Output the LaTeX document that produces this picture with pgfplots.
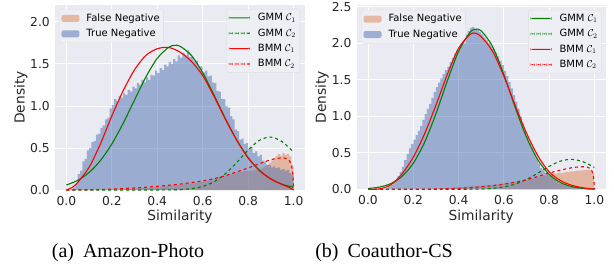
\documentclass[border=0pt]{standalone}
\usepackage{pgfplots}
\pgfplotsset{compat=1.18}
\usepackage{fontspec}
\setmainfont{DejaVu Sans}
\newfontfamily\capfont{Liberation Serif}
\definecolor{bgc}{HTML}{EAEAF2}
\definecolor{legc}{HTML}{EEEEF5}
\definecolor{tnc}{HTML}{4C72B0}
\definecolor{fnc}{HTML}{DD8452}
\definecolor{gmmc}{HTML}{008000}
\definecolor{bmmc}{HTML}{FF0000}
\definecolor{txt}{HTML}{262626}
\pgfplotsset{
  base/.style={scale only axis, anchor=south west, xmin=-0.05, xmax=1.05, ymin=0,
    axis background/.style={fill=bgc}, axis line style={draw=none}, major tick length=0pt,
    grid=major, grid style={white, line width=0.8bp},
    xtick={0,0.2,0.4,0.6,0.8,1.0},
    /pgf/number format/fixed, /pgf/number format/fixed zerofill,
    /pgf/number format/precision=1, /pgf/number format/assume math mode=true,
    tick label style={font=\fontsize{12.3bp}{14bp}\selectfont, text=txt},
    xticklabel style={yshift=-3bp}, yticklabel style={xshift=-1.7bp},
    label style={font=\fontsize{13.8bp}{16bp}\selectfont, text=txt},
    xlabel={Similarity}, ylabel={Density},
    legend cell align=left,
    legend style={draw=black!12, fill=legc,
      rounded corners=2bp, font=\fontsize{10bp}{12bp}\selectfont,
      inner xsep=2bp, inner ysep=1.2bp, row sep=0bp,
      nodes={inner ysep=2.5bp, inner xsep=2bp, text height=8bp, text depth=2.4bp},
      /tikz/every odd column/.append style={column sep=5bp}},
  },
  over/.style={scale only axis, anchor=south west, xmin=-0.05, xmax=1.05, ymin=0,
    hide axis, grid=none, legend cell align=left,
    legend style={draw=black!12, fill=legc,
      rounded corners=2bp, font=\fontsize{10bp}{12bp}\selectfont,
      inner xsep=2bp, inner ysep=0.6bp, row sep=0bp,
      nodes={inner ysep=2.5bp, inner xsep=2bp, text height=8bp, text depth=2.4bp},
      /tikz/every odd column/.append style={column sep=6bp}},
  },
  hist/.style={ybar interval, draw=none, fill=#1, fill opacity=0.5,
    legend image code/.code={\fill[#1, fill opacity=0.5, draw=none] (0bp,-3.5bp) rectangle (18bp,3.5bp);}},
  crv/.style={line width=1.1bp, smooth, tension=0.5, no marks, color=#1,
    legend image code/.code={\path[fill=#1, draw=none] (0bp,-0.55bp) rectangle (21bp,0.55bp);}},
  crvd/.style={line width=1.1bp, smooth, tension=0.3, no marks, color=#1, dashed,
    legend image code/.code={\path[fill=#1, draw=none] (0bp,-0.55bp) rectangle (4bp,0.55bp) (6bp,-0.55bp) rectangle (10bp,0.55bp)
       (12bp,-0.55bp) rectangle (16bp,0.55bp) (18bp,-0.55bp) rectangle (21bp,0.55bp);}},
}
\begin{document}
\begin{tikzpicture}
\path[use as bounding box] (0,0) rectangle (614bp,-273bp);
% ---------------- Left panel ----------------
\begin{axis}[base, at={(55bp,-190bp)}, width=250bp, height=185bp, ymax=2.2,
  ytick={0,0.5,1.0,1.5,2.0},
  xlabel style={at={(axis description cs:0.5,-0.144)}, anchor=center},
  ylabel style={at={(axis description cs:-0.137,0.5)}, anchor=center},
  legend style={at={(0,1)}, anchor=north west, xshift=4.3bp, yshift=-4.3bp}]
\addplot[hist=fnc] table[row sep=\\]{x y\\
0.00 0\\0.01 0\\0.02 0\\0.03 0\\0.04 0\\0.05 0\\0.06 0\\0.07 0\\0.08 0\\0.09 0\\
0.10 0\\0.11 0\\0.12 0\\0.13 0\\0.14 0\\0.15 0.001\\0.16 0.001\\0.17 0.002\\0.18 0.002\\0.19 0.003\\
0.20 0.003\\0.21 0.004\\0.22 0.005\\0.23 0.006\\0.24 0.007\\0.25 0.008\\0.26 0.010\\0.27 0.011\\0.28 0.013\\0.29 0.015\\
0.30 0.017\\0.31 0.019\\0.32 0.021\\0.33 0.023\\0.34 0.025\\0.35 0.027\\0.36 0.029\\0.37 0.031\\0.38 0.033\\0.39 0.035\\
0.40 0.037\\0.41 0.040\\0.42 0.042\\0.43 0.045\\0.44 0.047\\0.45 0.050\\0.46 0.052\\0.47 0.055\\0.48 0.058\\0.49 0.060\\
0.50 0.063\\0.51 0.066\\0.52 0.069\\0.53 0.072\\0.54 0.076\\0.55 0.080\\0.56 0.084\\0.57 0.088\\0.58 0.092\\0.59 0.096\\
0.60 0.100\\0.61 0.106\\0.62 0.112\\0.63 0.118\\0.64 0.124\\0.65 0.130\\0.66 0.138\\0.67 0.146\\0.68 0.154\\0.69 0.162\\
0.70 0.170\\0.71 0.178\\0.72 0.186\\0.73 0.194\\0.74 0.202\\0.75 0.210\\0.76 0.214\\0.77 0.218\\0.78 0.222\\0.79 0.226\\
0.80 0.230\\0.81 0.228\\0.82 0.232\\0.83 0.236\\0.84 0.240\\0.85 0.248\\0.86 0.26\\0.87 0.28\\0.88 0.30\\0.89 0.32\\
0.90 0.35\\0.91 0.38\\0.92 0.40\\0.93 0.43\\0.94 0.41\\0.95 0.44\\0.96 0.42\\0.97 0.43\\0.98 0.40\\0.99 0.30\\1.00 0\\};
\addlegendentry{False Negative}
\addplot[hist=tnc] table[row sep=\\]{x y\\
0.00 0\\0.01 0\\0.02 0.01\\0.03 0.03\\0.04 0.08\\0.05 0.19\\0.06 0.23\\0.07 0.34\\0.08 0.37\\0.09 0.47\\
0.10 0.50\\0.11 0.57\\0.12 0.58\\0.13 0.66\\0.14 0.67\\0.15 0.74\\0.16 0.77\\0.17 0.84\\0.18 0.86\\0.19 0.97\\
0.20 1.01\\0.21 1.08\\0.22 1.06\\0.23 1.12\\0.24 1.10\\0.25 1.15\\0.26 1.13\\0.27 1.19\\0.28 1.17\\0.29 1.23\\
0.30 1.21\\0.31 1.27\\0.32 1.25\\0.33 1.31\\0.34 1.28\\0.35 1.34\\0.36 1.31\\0.37 1.37\\0.38 1.36\\0.39 1.42\\
0.40 1.39\\0.41 1.45\\0.42 1.43\\0.43 1.49\\0.44 1.47\\0.45 1.52\\0.46 1.50\\0.47 1.56\\0.48 1.53\\0.49 1.60\\
0.50 1.57\\0.51 1.63\\0.52 1.60\\0.53 1.66\\0.54 1.58\\0.55 1.59\\0.56 1.53\\0.57 1.54\\0.58 1.47\\0.59 1.47\\
0.60 1.40\\0.61 1.42\\0.62 1.35\\0.63 1.36\\0.64 1.28\\0.65 1.27\\0.66 1.18\\0.67 1.17\\0.68 1.08\\0.69 1.08\\
0.70 1.00\\0.71 0.98\\0.72 0.88\\0.73 0.84\\0.74 0.72\\0.75 0.70\\0.76 0.60\\0.77 0.61\\0.78 0.55\\0.79 0.56\\
0.80 0.49\\0.81 0.51\\0.82 0.44\\0.83 0.46\\0.84 0.40\\0.85 0.42\\0.86 0.35\\0.87 0.34\\0.88 0.30\\0.89 0.30\\
0.90 0.27\\0.91 0.28\\0.92 0.26\\0.93 0.27\\0.94 0.24\\0.95 0.25\\0.96 0.23\\0.97 0.24\\0.98 0.20\\0.99 0.18\\1.00 0\\};
\addlegendentry{True Negative}
\end{axis}
\begin{axis}[over, at={(55bp,-190bp)}, width=250bp, height=185bp, ymax=2.2,
  legend style={at={(1,1)}, anchor=north east, xshift=-5bp, yshift=-4.3bp}]
\addplot[crv=gmmc] table[row sep=\\]{x y\\
0 0.059\\0.05 0.115\\0.1 0.208\\0.15 0.351\\0.2 0.547\\0.25 0.794\\0.3 1.071\\0.35 1.344\\0.4 1.566\\0.45 1.697\\0.475 1.719\\
0.5 1.710\\0.55 1.601\\0.6 1.394\\0.65 1.128\\0.7 0.848\\0.75 0.593\\0.8 0.385\\0.85 0.233\\0.9 0.131\\0.95 0.068\\1.0 0.033\\};
\addlegendentry{GMM $\mathcal{C}_1$}
\addplot[crvd=gmmc, tension=0.5] table[row sep=\\]{x y\\
0 0\\0.1 0\\0.2 0\\0.3 0\\0.35 0.0001\\0.4 0.0003\\0.45 0.0014\\0.5 0.005\\0.55 0.016\\0.6 0.042\\0.65 0.098\\0.7 0.194\\
0.75 0.328\\0.8 0.476\\0.85 0.592\\0.9 0.629\\0.95 0.574\\1.0 0.448\\};
\addlegendentry{GMM $\mathcal{C}_2$}
\addplot[crv=bmmc] table[row sep=\\]{x y\\
0 0\\0.025 0.03\\0.05 0.09\\0.1 0.27\\0.15 0.55\\0.2 0.88\\0.25 1.18\\0.3 1.43\\0.35 1.60\\0.4 1.68\\0.45 1.695\\
0.5 1.64\\0.55 1.53\\0.6 1.36\\0.65 1.11\\0.7 0.84\\0.75 0.59\\0.8 0.38\\0.85 0.23\\0.9 0.13\\0.95 0.065\\0.98 0.03\\1.0 0\\};
\addlegendentry{BMM $\mathcal{C}_1$}
\addplot[crvd=bmmc] table[row sep=\\]{x y\\
0 0\\0.05 0.001\\0.1 0.003\\0.15 0.006\\0.2 0.011\\0.25 0.017\\0.3 0.024\\0.35 0.033\\0.4 0.044\\0.45 0.056\\
0.5 0.070\\0.55 0.088\\0.6 0.108\\0.65 0.135\\0.7 0.170\\0.75 0.215\\0.8 0.262\\0.85 0.313\\0.875 0.338\\
0.9 0.360\\0.925 0.376\\0.95 0.382\\0.96 0.380\\0.97 0.372\\0.98 0.352\\0.985 0.33\\0.99 0.29\\0.995 0.22\\0.998 0.13\\1.0 0\\};
\addlegendentry{BMM $\mathcal{C}_2$}
\end{axis}
% ---------------- Right panel ----------------
\begin{axis}[base, at={(356.7bp,-189.3bp)}, width=249bp, height=184.3bp, ymax=2.523,
  ytick={0,0.5,1.0,1.5,2.0,2.5},
  xlabel style={at={(axis description cs:0.5,-0.148)}, anchor=center},
  ylabel style={at={(axis description cs:-0.139,0.5)}, anchor=center},
  legend style={at={(0,1)}, anchor=north west, xshift=4.6bp, yshift=-5bp}]
\addplot[hist=fnc] table[row sep=\\]{x y\\
0.00 0\\0.01 0\\0.02 0\\0.03 0\\0.04 0\\0.05 0\\0.06 0\\0.07 0\\0.08 0\\0.09 0\\
0.10 0\\0.11 0\\0.12 0\\0.13 0\\0.14 0\\0.15 0.001\\0.16 0.001\\0.17 0.001\\0.18 0.002\\0.19 0.002\\
0.20 0.002\\0.21 0.002\\0.22 0.003\\0.23 0.003\\0.24 0.004\\0.25 0.005\\0.26 0.006\\0.27 0.007\\0.28 0.008\\0.29 0.009\\
0.30 0.010\\0.31 0.012\\0.32 0.014\\0.33 0.016\\0.34 0.018\\0.35 0.020\\0.36 0.022\\0.37 0.024\\0.38 0.026\\0.39 0.028\\
0.40 0.030\\0.41 0.032\\0.42 0.034\\0.43 0.036\\0.44 0.038\\0.45 0.040\\0.46 0.042\\0.47 0.044\\0.48 0.046\\0.49 0.048\\
0.50 0.050\\0.51 0.052\\0.52 0.054\\0.53 0.056\\0.54 0.058\\0.55 0.060\\0.56 0.064\\0.57 0.068\\0.58 0.072\\0.59 0.076\\
0.60 0.080\\0.61 0.084\\0.62 0.088\\0.63 0.092\\0.64 0.096\\0.65 0.100\\0.66 0.106\\0.67 0.112\\0.68 0.118\\0.69 0.124\\
0.70 0.130\\0.71 0.138\\0.72 0.146\\0.73 0.154\\0.74 0.162\\0.75 0.170\\0.76 0.176\\0.77 0.182\\0.78 0.190\\0.79 0.198\\
0.80 0.205\\0.81 0.210\\0.82 0.214\\0.83 0.218\\0.84 0.222\\0.85 0.226\\0.86 0.230\\0.87 0.234\\0.88 0.238\\0.89 0.242\\
0.90 0.246\\0.91 0.250\\0.92 0.254\\0.93 0.256\\0.94 0.258\\0.95 0.262\\0.96 0.264\\0.97 0.268\\0.98 0.262\\0.99 0.225\\1.00 0\\};
\addlegendentry{False Negative}
\addplot[hist=tnc] table[row sep=\\]{x y\\
0.00 0\\0.01 0\\0.02 0\\0.03 0\\0.04 0\\0.05 0\\0.06 0\\0.07 0.005\\0.08 0.02\\0.09 0.04\\
0.10 0.06\\0.11 0.09\\0.12 0.13\\0.13 0.18\\0.14 0.24\\0.15 0.31\\0.16 0.40\\0.17 0.48\\0.18 0.56\\0.19 0.62\\
0.20 0.68\\0.21 0.74\\0.22 0.80\\0.23 0.87\\0.24 0.95\\0.25 1.03\\0.26 1.10\\0.27 1.17\\0.28 1.25\\0.29 1.33\\
0.30 1.40\\0.31 1.46\\0.32 1.52\\0.33 1.58\\0.34 1.63\\0.35 1.68\\0.36 1.74\\0.37 1.80\\0.38 1.86\\0.39 1.91\\
0.40 1.96\\0.41 2.02\\0.42 2.07\\0.43 2.12\\0.44 2.17\\0.45 2.21\\0.46 2.22\\0.47 2.20\\0.48 2.18\\0.49 2.15\\
0.50 2.12\\0.51 2.08\\0.52 2.04\\0.53 2.00\\0.54 1.96\\0.55 1.92\\0.56 1.87\\0.57 1.82\\0.58 1.76\\0.59 1.70\\
0.60 1.62\\0.61 1.55\\0.62 1.47\\0.63 1.38\\0.64 1.29\\0.65 1.20\\0.66 1.10\\0.67 1.00\\0.68 0.90\\0.69 0.80\\
0.70 0.72\\0.71 0.64\\0.72 0.57\\0.73 0.50\\0.74 0.43\\0.75 0.35\\0.76 0.29\\0.77 0.26\\0.78 0.23\\0.79 0.21\\
0.80 0.19\\0.81 0.16\\0.82 0.13\\0.83 0.10\\0.84 0.08\\0.85 0.07\\0.86 0.06\\0.87 0.05\\0.88 0.04\\0.89 0.04\\
0.90 0.03\\0.91 0.03\\0.92 0.03\\0.93 0.02\\0.94 0.02\\0.95 0.02\\0.96 0.02\\0.97 0.02\\0.98 0.01\\0.99 0.01\\1.00 0\\};
\addlegendentry{True Negative}
\end{axis}
\begin{axis}[over, at={(356.7bp,-189.3bp)}, width=249bp, height=184.3bp, ymax=2.523,
  legend style={at={(1,1)}, anchor=north east, xshift=-4bp, yshift=-5bp}]
\addplot[crv=gmmc] table[row sep=\\]{x y\\
0 0.011\\0.05 0.030\\0.1 0.077\\0.15 0.176\\0.2 0.357\\0.25 0.644\\0.3 1.035\\0.35 1.481\\0.4 1.888\\0.45 2.145\\0.475 2.19\\
0.5 2.170\\0.55 1.955\\0.6 1.569\\0.65 1.122\\0.7 0.714\\0.75 0.405\\0.8 0.205\\0.85 0.092\\0.9 0.037\\0.95 0.013\\1.0 0.004\\};
\addlegendentry{GMM $\mathcal{C}_1$}
\addplot[crvd=gmmc, tension=0.5] table[row sep=\\]{x y\\
0 0\\0.1 0\\0.2 0\\0.3 0\\0.4 0.0003\\0.45 0.0013\\0.5 0.0044\\0.55 0.0129\\0.6 0.033\\0.65 0.071\\0.7 0.135\\
0.75 0.221\\0.8 0.314\\0.85 0.386\\0.9 0.410\\0.95 0.377\\1.0 0.300\\};
\addlegendentry{GMM $\mathcal{C}_2$}
\addplot[crv=bmmc] table[row sep=\\]{x y\\
0 0\\0.05 0.005\\0.1 0.06\\0.15 0.21\\0.2 0.44\\0.25 0.76\\0.3 1.15\\0.35 1.57\\0.4 1.93\\0.45 2.12\\0.475 2.135\\
0.5 2.09\\0.55 1.89\\0.6 1.55\\0.65 1.15\\0.7 0.77\\0.75 0.46\\0.8 0.24\\0.85 0.12\\0.9 0.055\\0.95 0.02\\0.98 0.007\\1.0 0\\};
\addlegendentry{BMM $\mathcal{C}_1$}
\addplot[crvd=bmmc] table[row sep=\\]{x y\\
0 0\\0.1 0\\0.2 0.001\\0.3 0.004\\0.4 0.013\\0.45 0.022\\0.5 0.034\\0.55 0.050\\0.6 0.070\\0.65 0.098\\0.7 0.13\\
0.75 0.175\\0.8 0.222\\0.85 0.262\\0.875 0.280\\0.9 0.295\\0.925 0.305\\0.95 0.309\\0.96 0.308\\0.97 0.302\\
0.98 0.287\\0.985 0.272\\0.99 0.245\\0.995 0.185\\0.998 0.11\\1.0 0\\};
\addlegendentry{BMM $\mathcal{C}_2$}
\end{axis}
\node[font=\capfont\fontsize{20bp}{24bp}\selectfont, anchor=center] at (128bp,-253bp) {(a)\hspace{0.45em}Amazon-Photo};
\node[font=\capfont\fontsize{20bp}{24bp}\selectfont, anchor=center] at (384bp,-253bp) {(b)\hspace{0.45em}Coauthor-CS};
\end{tikzpicture}
\end{document}
